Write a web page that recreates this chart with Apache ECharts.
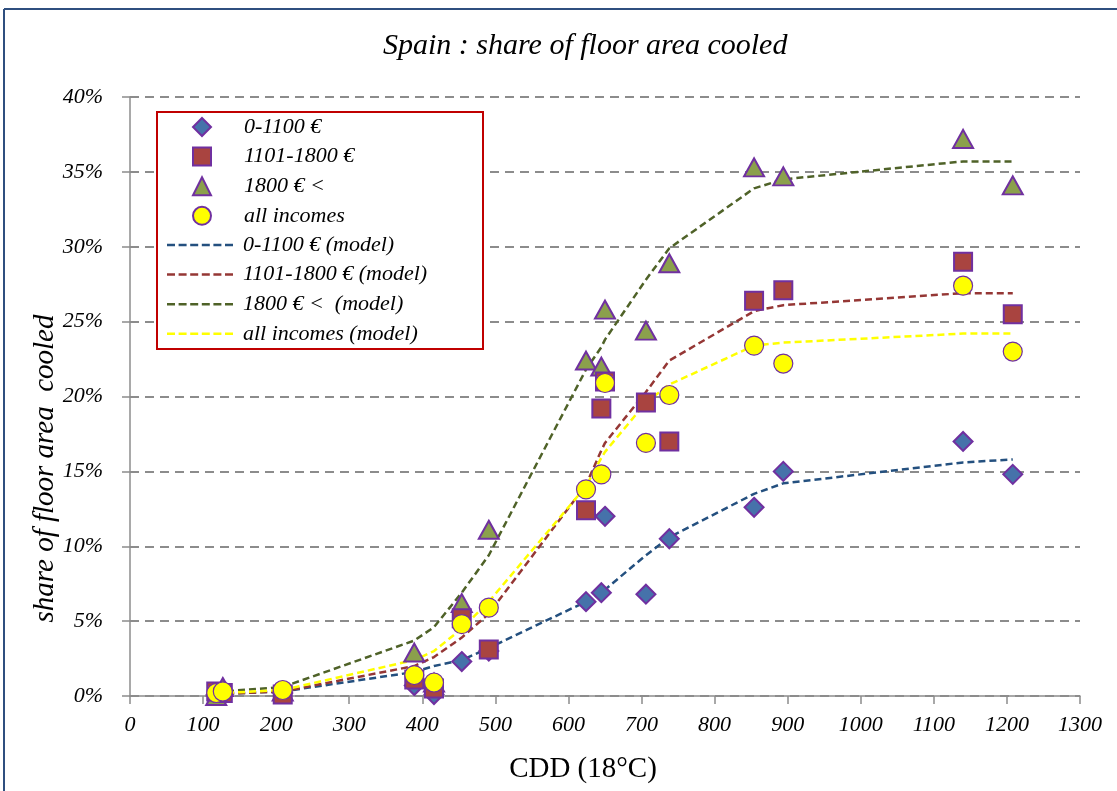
<!DOCTYPE html>
<html><head><meta charset="utf-8">
<script src="https://cdn.jsdelivr.net/npm/echarts/dist/echarts.min.js"></script>
<style>html,body{margin:0;padding:0;background:#fff}#c{width:1117px;height:791px}</style>
</head><body><div id="c"></div><script>
// CDD (18°C) of each region
const cdd = [118, 127, 209, 389, 416, 454, 491, 624, 645, 650, 706, 738, 854, 894, 1140, 1208];
// observed share of floor area cooled (%)
const obsLow  = [0.1, 0.1, 0.2, 0.7, 0.1, 2.3, 3.0, 6.3, 6.9, 12.0, 6.8, 10.5, 12.6, 15.0, 17.0, 14.8];
const obsMid  = [0.3, 0.2, 0.1, 1.1, 0.5, 5.2, 3.1, 12.4, 19.2, 21.0, 19.6, 17.0, 26.4, 27.1, 29.0, 25.5];
const obsHigh = [0.0, 0.6, 0.3, 2.9, 0.9, 6.2, 11.1, 22.4, 22.0, 25.8, 24.4, 28.9, 35.3, 34.7, 37.2, 34.1];
const obsAll  = [0.2, 0.3, 0.4, 1.4, 0.9, 4.8, 5.9, 13.8, 14.8, 20.9, 16.9, 20.1, 23.4, 22.2, 27.4, 23.0];
// model curves (%)
const modLow  = [0.1, 0.15, 0.3, 1.6, 2.0, 2.4, 3.2, 6.3, 6.9, 7.1, 9.4, 10.6, 13.5, 14.2, 15.6, 15.8];
const modMid  = [0.1, 0.15, 0.3, 2.0, 2.6, 3.9, 5.5, 14.1, 16.4, 16.9, 20.3, 22.4, 25.7, 26.1, 26.9, 26.9];
const modHigh = [0.2, 0.3, 0.6, 3.7, 4.6, 6.9, 9.4, 21.8, 23.3, 23.8, 27.8, 29.9, 33.9, 34.5, 35.7, 35.7];
const modAll  = [0.1, 0.2, 0.4, 2.4, 3.0, 4.5, 6.3, 14.0, 15.9, 16.3, 19.6, 20.8, 23.4, 23.6, 24.2, 24.2];
const names = ['0-1100 €', '1101-1800 €', '1800 € <', 'all incomes',
  '0-1100 € (model)', '1101-1800 € (model)', '1800 € <  (model)', 'all incomes (model)'];
const modelColors = ['#24507F', '#953735', '#4F6228', '#FFFF00'];
const xTicks = {min: 0, max: 1300, interval: 100};
const yTicks = {min: 0, max: 40, interval: 5};

const F = 'Liberation Serif';
const pts = ys => cdd.map((x, i) => [x, ys[i]]);
const border = '#7030A0';
function scatter(name, ys, symbol, size, fill, bw, z) {
  return {type: 'scatter', name, data: pts(ys), symbol, symbolSize: size, z,
    itemStyle: {color: fill, borderColor: border, borderWidth: bw, opacity: 1}};
}
function model(name, ys, color) {
  return {type: 'line', name, data: pts(ys), symbol: 'none', showSymbol: false, z: 1,
    lineStyle: {color, width: 2.5, type: [7, 4]}, itemStyle: {color}};
}
const legendText = {fontFamily: F, fontStyle: 'italic', fontSize: 22, color: '#000'};
// legend rows for the model curves (dashed key + label)
const modelKeys = [];
names.slice(4).forEach((n, i) => {
  const cy = 245 + i * 29.6;
  modelKeys.push({type: 'line', z: 11, silent: true,
    shape: {x1: 167, y1: cy, x2: 233, y2: cy},
    style: {stroke: modelColors[i], lineWidth: 2.5, lineDash: [8, 3.6]}});
  modelKeys.push({type: 'text', z: 11, silent: true, x: 243, y: cy,
    style: {text: n, fontFamily: F, fontStyle: 'italic', fontSize: 22, fill: '#000',
      align: 'left', verticalAlign: 'middle'}});
});
const chart = echarts.init(document.getElementById('c'));
chart.setOption({
  animation: false,
  backgroundColor: '#fff',
  title: {text: 'Spain : share of floor area cooled', left: 378, top: 26,
    textStyle: {fontFamily: F, fontStyle: 'italic', fontWeight: 'normal', fontSize: 30, color: '#000'}},
  grid: {left: 130, right: 37, top: 97, bottom: 95, containLabel: false},
  legend: [
    {orient: 'vertical', left: 192, top: 116, itemWidth: 18, itemHeight: 18, itemGap: 7.6, z: 20,
      padding: 0, data: names.slice(0, 4), selectedMode: false,
      textStyle: Object.assign({padding: [0, 0, 0, 28]}, legendText)}
  ],
  xAxis: {type: 'value', min: xTicks.min, max: xTicks.max, interval: xTicks.interval,
    name: 'CDD (18°C)', nameLocation: 'middle', nameGap: 59, nameMoveOverlap: false,
    nameTextStyle: {fontFamily: F, fontSize: 29, color: '#000', padding: [0, 44, 0, 0]},
    axisLine: {show: true, lineStyle: {color: '#8c8c8c', width: 1.5}},
    axisTick: {show: true, length: 8, lineStyle: {color: '#8c8c8c', width: 1.5}},
    axisLabel: {margin: 18, formatter: v => String(v), fontFamily: F, fontStyle: 'italic', fontSize: 22, color: '#000'},
    splitLine: {show: false}},
  yAxis: {type: 'value', min: yTicks.min, max: yTicks.max, interval: yTicks.interval,
    name: 'share of floor area  cooled', nameLocation: 'middle', nameGap: 70, nameRotate: 90, nameMoveOverlap: false,
    nameTextStyle: {fontFamily: F, fontStyle: 'italic', fontSize: 29, color: '#000', padding: [0, 144, 0, 0]},
    axisLine: {show: true, lineStyle: {color: '#8c8c8c', width: 1.5}},
    axisTick: {show: true, length: 8, lineStyle: {color: '#8c8c8c', width: 1.5}},
    axisLabel: {margin: 27, formatter: '{value}%', fontFamily: F, fontStyle: 'italic', fontSize: 22, color: '#000'},
    splitLine: {show: true, lineStyle: {color: '#8c8c8c', width: 2, type: [9, 6]}}},
  graphic: {z: 10, elements: [
    {type: 'line', shape: {x1: 4, y1: 9, x2: 1117, y2: 9}, style: {stroke: '#2F4F7F', lineWidth: 2}, silent: true},
    {type: 'line', shape: {x1: 4, y1: 9, x2: 4, y2: 791}, style: {stroke: '#2F4F7F', lineWidth: 2}, silent: true},
    {type: 'rect', z: 10, shape: {x: 157, y: 112, width: 326, height: 237},
      style: {fill: '#fff', stroke: '#C00000', lineWidth: 2}, silent: true}
  ].concat(modelKeys)},
  series: [
    scatter(names[0], obsLow, 'diamond', 19, '#4672AA', 2, 3),
    scatter(names[2], obsHigh, 'triangle', [20, 18], '#8BA04C', 2, 4),
    scatter(names[1], obsMid, 'rect', 18, '#A94440', 2, 5),
    scatter(names[3], obsAll, 'circle', 19, '#FFFF00', 1.2, 6),
    model(names[4], modLow, modelColors[0]),
    model(names[5], modMid, modelColors[1]),
    model(names[6], modHigh, modelColors[2]),
    model(names[7], modAll, modelColors[3])
  ]
});
</script></body></html>
